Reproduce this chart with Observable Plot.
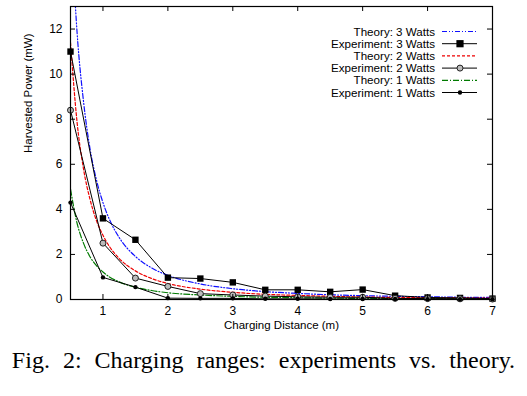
<!DOCTYPE html>
<html><head><meta charset="utf-8">
<script src="https://cdn.jsdelivr.net/npm/d3@7"></script>
<script src="https://cdn.jsdelivr.net/npm/@observablehq/plot@0.6"></script>
<style>
body{margin:0;background:#fff;}
#wrap{position:relative;width:527px;height:396px;}
#cap{position:absolute;left:0;width:527px;top:347px;text-align:center;font-family:"Liberation Serif","Times New Roman",serif;font-size:24px;word-spacing:7px;color:#000;white-space:nowrap;}
</style></head>
<body><div id="wrap"><div id="chart"></div><div id="cap">Fig. 2: Charging ranges: experiments vs. theory.</div></div>
<script>
const expX = [0.5,1,1.5,2,2.5,3,3.5,4,4.5,5,5.5,6,6.5,7];
const exp3 = [11.0,3.6,2.65,0.97,0.93,0.76,0.43,0.43,0.34,0.44,0.17,0.09,0.07,0.04];
const exp2 = [8.4,2.5,0.95,0.58,0.26,0.2,0.15,0.12,0.1,0.1,0.05,0.04,0.03,0.02];
const exp1 = [4.3,0.98,0.55,0.06,0.05,0.05,0.03,0.03,0.02,0.02,0.02,0.01,0.01,0.01];
const thX = [0.5,0.6,0.7,0.8,0.9,1,1.1,1.25,1.5,1.75,2,2.5,3,3.5,4,4.5,5,5.5,6,6.5,7];
const th3 = [17.2,11.9,8.8,6.7,5.3,4.3,3.55,2.75,1.91,1.4,1.07,0.69,0.48,0.35,0.27,0.21,0.17,0.14,0.12,0.10,0.09];
const th2 = [11.4,7.9,5.8,4.45,3.5,2.85,2.35,1.82,1.27,0.93,0.71,0.46,0.32,0.23,0.18,0.14,0.11,0.09,0.08,0.07,0.06];
const th1 = [4.9,3.4,2.5,1.9,1.5,1.22,1.0,0.78,0.54,0.4,0.3,0.2,0.14,0.1,0.08,0.06,0.05,0.04,0.035,0.03,0.025];
const xTicks = [1,2,3,4,5,6,7];
const yTicks = [0,2,4,6,8,10,12];
const legendLabels = ["Theory: 3 Watts","Experiment: 3 Watts","Theory: 2 Watts","Experiment: 2 Watts","Theory: 1 Watts","Experiment: 1 Watts"];
const xTitle = "Charging Distance (m)";
const yTitle = "Harvested Power (mW)";

const toRows = (xs, ys) => xs.map((x,i)=>({x, y: ys[i]}));
const W = 527, H = 340, mL = 70, mR = 35, mT = 6, mB = 41;
const ph = H - mT - mB, pw = W - mL - mR;
const theoryStyles = [
  {data: th3, stroke: "#1010ff", dash: "5,2,1,2,1,2"},
  {data: th2, stroke: "#ee0000", dash: "3,2"},
  {data: th1, stroke: "#007a00", dash: "6,2,1,2"}
];
const font = "'Liberation Sans', Arial, sans-serif";
const plot = Plot.plot({
  width: W, height: H, marginLeft: mL, marginRight: mR, marginTop: mT, marginBottom: mB,
  style: {fontFamily: font, fontSize: "12px", background: "#fff", color: "#000"},
  x: {domain: [0.5, 7]},
  y: {domain: [0, 13]},
  marks: [
    ...theoryStyles.map(s => Plot.line(toRows(thX, s.data), {x: "x", y: "y", stroke: s.stroke, strokeWidth: 1.2, strokeDasharray: s.dash, curve: "monotone-x", clip: true})),
    Plot.line(toRows(expX, exp3), {x: "x", y: "y", stroke: "#000", strokeWidth: 1}),
    Plot.line(toRows(expX, exp2), {x: "x", y: "y", stroke: "#000", strokeWidth: 1}),
    Plot.line(toRows(expX, exp1), {x: "x", y: "y", stroke: "#000", strokeWidth: 1}),
    Plot.dot(toRows(expX, exp3), {x: "x", y: "y", symbol: "square", r: 3.6, fill: "#000"}),
    Plot.dot(toRows(expX, exp2), {x: "x", y: "y", symbol: "circle", r: 3, fill: "#bbb", stroke: "#222", strokeWidth: 1}),
    Plot.dot(toRows(expX, exp1), {x: "x", y: "y", symbol: "circle", r: 2.2, fill: "#000"}),
    Plot.frame({stroke: "#000", strokeWidth: 1.2}),
    Plot.tickX(xTicks, {x: d=>d, insetTop: ph - 5, stroke: "#000"}),
    Plot.tickX(xTicks, {x: d=>d, insetBottom: ph - 5, stroke: "#000"}),
    Plot.tickY(yTicks, {y: d=>d, insetRight: pw - 5, stroke: "#000"}),
    Plot.tickY(yTicks, {y: d=>d, insetLeft: pw - 5, stroke: "#000"}),
    Plot.axisX(xTicks, {tickSize: 0, tickPadding: 7, label: null, fontSize: 12}),
    Plot.axisY(yTicks, {tickSize: 0, tickPadding: 8, label: null, fontSize: 12}),
    Plot.text([xTitle], {text: d=>d, frameAnchor: "bottom", dy: 29, fontSize: 11.5}),
    Plot.text([yTitle], {text: d=>d, frameAnchor: "left", dx: -42, rotate: -90, fontSize: 11.5})
  ]
});
document.getElementById("chart").appendChild(plot);

// legend (gnuplot-style, inside the frame, top-right)
const svg = d3.select(plot);
const lg = svg.append("g").attr("font-family", font).attr("font-size", 11.6);
const rowH = 12.2, y0 = 31.5, textX = 435, s1 = 442, s2 = 477, mx = 460;
legendLabels.forEach((lab, i) => {
  const y = y0 + i * rowH;
  lg.append("text").attr("x", textX).attr("y", y).attr("dy", "0.35em").attr("text-anchor", "end").attr("fill", "#000").text(lab);
  if (i % 2 === 0) {
    const s = theoryStyles[i/2];
    lg.append("line").attr("x1", s1).attr("x2", s2).attr("y1", y).attr("y2", y).attr("stroke", s.stroke).attr("stroke-width", 1.2).attr("stroke-dasharray", s.dash);
  } else {
    lg.append("line").attr("x1", s1).attr("x2", s2).attr("y1", y).attr("y2", y).attr("stroke", "#000").attr("stroke-width", 1);
    if (i === 1) lg.append("rect").attr("x", mx-3.6).attr("y", y-3.6).attr("width", 7.2).attr("height", 7.2).attr("fill", "#000");
    if (i === 3) lg.append("circle").attr("cx", mx).attr("cy", y).attr("r", 3).attr("fill", "#bbb").attr("stroke", "#222");
    if (i === 5) lg.append("circle").attr("cx", mx).attr("cy", y).attr("r", 2.2).attr("fill", "#000");
  }
});
</script></body></html>
